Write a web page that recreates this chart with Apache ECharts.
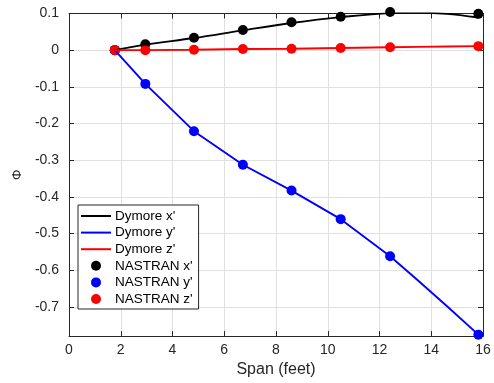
<!DOCTYPE html>
<html>
<head>
<meta charset="utf-8">
<script src="https://cdn.jsdelivr.net/npm/echarts@6/dist/echarts.min.js"></script>
<style>
  html, body { margin: 0; padding: 0; background: #fff; }
  #chart { width: 494px; height: 383px; }
</style>
</head>
<body>
<div id="chart"></div>
<script>
// Spanwise stations (feet) of the NASTRAN grid points
const nastranSpan = [1.77, 2.95, 4.83, 6.72, 8.6, 10.5, 12.41, 15.82];
const nastranX = [0, 0.016, 0.034, 0.055, 0.076, 0.091, 0.104, 0.099];
const nastranY = [0, -0.092, -0.221, -0.3125, -0.383, -0.461, -0.562, -0.776];
const nastranZ = [0, 0.0, 0.001, 0.003, 0.004, 0.006, 0.008, 0.011];

// Dymore beam results along the span
const dymoreSpan = [1.77, 2.95, 4.83, 6.72, 8.6, 10.5, 12.41, 13.5, 14.6, 15.82];
const dymoreX = [0, 0.015, 0.033, 0.054, 0.074, 0.090, 0.101, 0.102, 0.099, 0.089];
const dymoreY = [0, -0.092, -0.221, -0.3125, -0.383, -0.461, -0.562, -0.629, -0.698, -0.776];
const dymoreZ = [0, 0.0, 0.001, 0.003, 0.004, 0.006, 0.008, 0.009, 0.010, 0.011];

// Axis ticks
const xTicks = [0, 2, 4, 6, 8, 10, 12, 14, 16];
const yTicks = [-0.7, -0.6, -0.5, -0.4, -0.3, -0.2, -0.1, 0, 0.1];

const pairs = (xs, ys) => xs.map((x, i) => [x, ys[i]]);

const axisColor = '#262626';
const gridColor = '#e0e0e0';
const font = 'Liberation Sans, Arial, Helvetica, sans-serif';
const lineWidth = 1.9;
// legend key for the beam curves: a plain horizontal stroke
const lineKey = 'path://M0,0 L30,0 L30,2 L0,2 Z';

const chart = echarts.init(document.getElementById('chart'), null, { renderer: 'canvas' });

const xBase = {
  type: 'value', min: xTicks[0], max: xTicks[xTicks.length - 1], interval: 2,
  axisLine: { show: true, onZero: false, lineStyle: { color: axisColor, width: 1 } },
  axisTick: { show: true, inside: true, length: 5, lineStyle: { color: axisColor } }
};
const yBase = {
  type: 'value', min: -0.78, max: 0.1,
  axisLine: { show: true, onZero: false, lineStyle: { color: axisColor, width: 1 } },
  axisTick: { show: true, inside: true, length: 5, customValues: yTicks, lineStyle: { color: axisColor } }
};

chart.setOption({
  animation: false,
  backgroundColor: '#fff',
  grid: { left: 69, right: 11, top: 13.5, bottom: 44, containLabel: false },
  xAxis: [
    Object.assign({}, xBase, {
      position: 'bottom',
      name: 'Span (feet)', nameLocation: 'middle', nameGap: 25,
      nameTextStyle: { color: axisColor, fontSize: 16, fontFamily: font },
      axisLabel: { color: axisColor, fontSize: 14, fontFamily: font, margin: 7 },
      splitLine: { show: true, lineStyle: { color: gridColor, width: 1 } }
    }),
    Object.assign({}, xBase, {
      position: 'top',
      axisLabel: { show: false },
      splitLine: { show: false }
    })
  ],
  yAxis: [
    Object.assign({}, yBase, {
      position: 'left',
      name: 'Φ', nameLocation: 'middle', nameGap: 43, nameRotate: 90,
      nameTextStyle: { color: axisColor, fontSize: 13, fontFamily: font },
      axisLabel: {
        color: axisColor, fontSize: 14, fontFamily: font, margin: 10,
        customValues: yTicks,
        formatter: v => String(Math.round(v * 10) / 10)
      },
      splitLine: { show: true, lineStyle: { color: gridColor, width: 1 } }
    }),
    Object.assign({}, yBase, {
      position: 'right',
      axisLabel: { show: false },
      splitLine: { show: false }
    })
  ],
  legend: {
    orient: 'vertical',
    left: 78, top: 205,
    padding: [4, 6, 3, 3],
    itemWidth: 30, itemHeight: 10, itemGap: 2.6,
    borderColor: '#262626', borderWidth: 1, backgroundColor: '#fff',
    lineStyle: { width: 2.2 },
    textStyle: { color: '#000', fontSize: 13.5, fontFamily: font, padding: [0, 0, 0, -1] },
    data: [
      { name: "Dymore x'", icon: lineKey },
      { name: "Dymore y'", icon: lineKey },
      { name: "Dymore z'", icon: lineKey },
      { name: "NASTRAN x'", icon: 'circle' },
      { name: "NASTRAN y'", icon: 'circle' },
      { name: "NASTRAN z'", icon: 'circle' }
    ]
  },
  series: [
    {
      name: "Dymore x'", type: 'line', symbol: 'none', showSymbol: false, smooth: 0.35,
      data: pairs(dymoreSpan, dymoreX),
      lineStyle: { color: '#000000', width: lineWidth }, itemStyle: { color: '#000000' }
    },
    {
      name: "Dymore y'", type: 'line', symbol: 'none', showSymbol: false,
      data: pairs(dymoreSpan, dymoreY),
      lineStyle: { color: '#0000ff', width: lineWidth }, itemStyle: { color: '#0000ff' }
    },
    {
      name: "Dymore z'", type: 'line', symbol: 'none', showSymbol: false,
      data: pairs(dymoreSpan, dymoreZ),
      lineStyle: { color: '#ff0000', width: lineWidth }, itemStyle: { color: '#ff0000' }
    },
    {
      name: "NASTRAN x'", type: 'scatter', symbol: 'circle', symbolSize: 10, clip: false,
      data: pairs(nastranSpan, nastranX), itemStyle: { color: '#000000', opacity: 1 }
    },
    {
      name: "NASTRAN y'", type: 'scatter', symbol: 'circle', symbolSize: 10, clip: false,
      data: pairs(nastranSpan, nastranY), itemStyle: { color: '#0000ff', opacity: 1 }
    },
    {
      name: "NASTRAN z'", type: 'scatter', symbol: 'circle', symbolSize: 10, clip: false,
      data: pairs(nastranSpan, nastranZ), itemStyle: { color: '#ff0000', opacity: 1 }
    }
  ]
});
</script>
</body>
</html>
